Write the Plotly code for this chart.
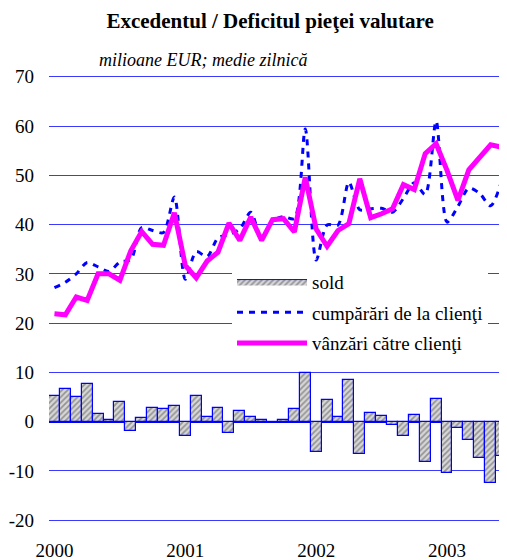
import plotly.graph_objects as go

# monthly data, Jan 2000 - Jun 2003 (milioane EUR, medie zilnica)
months = list(range(42))
year_ticks = [0, 12, 24, 36]
year_labels = ["2000", "2001", "2002", "2003"]
y_ticks = [-20, -10, 0, 10, 20, 30, 40, 50, 60, 70]
y_labels = ["-20", "-10", "0", "10", "20", "30", "40", "50", "60", "70"]

vanzari = [
    21.9, 21.7, 25.3, 24.6, 30.0, 30.0, 28.7, 34.7, 38.6, 36.0, 35.8, 42.4,
    31.7, 29.2, 32.6, 34.4, 40.3, 36.8, 41.5, 36.8, 41.0, 41.2, 38.5, 49.6,
    39.1, 35.6, 38.8, 40.2, 49.3, 41.4, 42.2, 43.2, 48.1, 47.1, 54.4, 56.4,
    51.0, 44.9, 51.1, 53.7, 56.2, 55.7,
]
cumparari = [
    27.2, 28.3, 30.0, 32.3, 31.4, 30.5, 32.4, 32.9, 39.4, 38.8, 38.4, 45.6,
    28.9, 34.5, 33.5, 37.3, 38.0, 39.1, 42.5, 37.1, 40.7, 41.6, 41.2, 59.4,
    32.8, 39.9, 39.9, 48.6, 43.0, 43.2, 43.3, 42.5, 45.3, 48.5, 46.1, 61.0,
    40.5, 43.7, 47.4, 46.3, 43.8, 48.8,
]
sold = [
    5.2, 6.7, 5.0, 7.75, 1.6, 0.4, 3.9, -1.85, 0.8, 2.85, 2.6, 3.2,
    -2.85, 5.3, 0.95, 2.85, -2.3, 2.25, 1.0, 0.3, -0.3, 0.4, 2.65, 9.9,
    -6.05, 4.35, 0.95, 8.4, -6.5, 1.8, 1.1, -0.75, -2.85, 1.45, -8.2, 4.7,
    -10.5, -1.2, -3.7, -7.35, -12.45, -6.9,
]

FONT = "Liberation Serif"
BLUE = "#0000ff"
GRID = "#3a3aff"
HATCH = dict(shape="/", fgcolor="#505050", bgcolor="#d8d8d8", size=4, solidity=0.45)

fig = go.Figure()
fig.add_trace(go.Bar(
    x=months, y=sold, name="sold", showlegend=False,
    marker=dict(color="#c8c8c8", line=dict(color=BLUE, width=1.2), pattern=HATCH),
))
# legend entry for the bars (wide hatched box like the original)
fig.add_trace(go.Scatter(
    x=[None], y=[None], name="sold", legendgroup="a", mode="lines",
    fill="toself", fillcolor="#c8c8c8", fillpattern=HATCH,
    line=dict(color=BLUE, width=1),
))
fig.add_trace(go.Scatter(
    x=months, y=cumparari, name="cumpărări de la clienţi", legendgroup="b",
    mode="lines", line=dict(color=BLUE, width=3, dash="6px,6px",
                            shape="spline", smoothing=0.8),
))
fig.add_trace(go.Scatter(
    x=months, y=vanzari, name="vânzări către clienţi", legendgroup="c",
    mode="lines", line=dict(color="#ff00ff", width=5),
))

fig.update_layout(
    width=507, height=560,
    margin=dict(l=41, r=8, t=67, b=46),
    paper_bgcolor="white", plot_bgcolor="white",
    font=dict(family=FONT, size=19, color="black"),
    bargap=0,
    title=dict(text="<b>Excedentul / Deficitul pieţei valutare</b>",
               x=0.517, xanchor="center", y=0.977, yanchor="middle",
               font=dict(family=FONT, size=21)),
    showlegend=True,
    legend=dict(x=0.3996, xanchor="left", y=0.58, yanchor="top",
                bgcolor="white", borderwidth=0, itemwidth=70,
                tracegroupgap=3, font=dict(family=FONT, size=19)),
    annotations=[dict(text="<i>milioane EUR; medie zilnică</i>",
                      xref="paper", yref="paper", x=0.1045, xanchor="left",
                      y=1.034, yanchor="middle", showarrow=False,
                      font=dict(family=FONT, size=18))],
)
fig.update_xaxes(range=[-0.5, 41.5], tickvals=year_ticks, ticktext=year_labels,
                 showgrid=False, zeroline=False, showline=False, automargin=False,
                 ticks="", ticklabelstandoff=15, tickfont=dict(size=19))
fig.update_yaxes(range=[-20.35, 70.35], tickvals=y_ticks, ticktext=y_labels,
                 showgrid=True, gridcolor=GRID,
                 gridwidth=1, zeroline=True, zerolinecolor=BLUE, zerolinewidth=1.5,
                 showline=False, automargin=False, ticks="", ticklabelstandoff=14,
                 tickfont=dict(size=19))

fig.write_html("out.html")
